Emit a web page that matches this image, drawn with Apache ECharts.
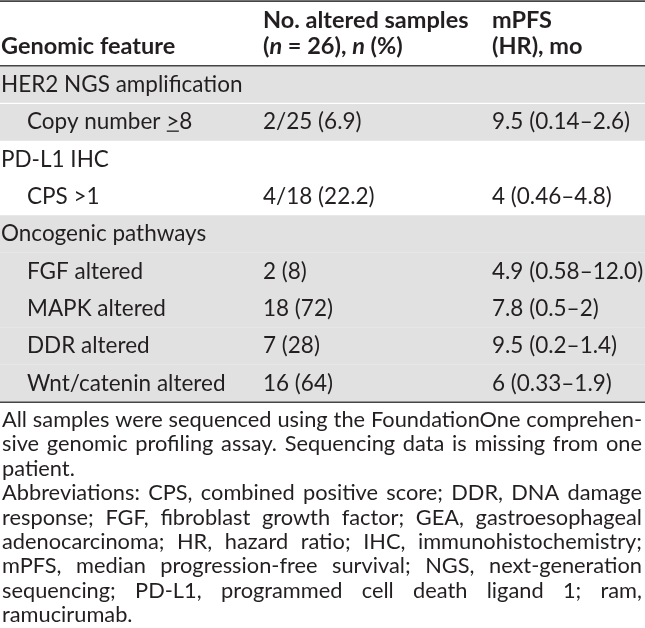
<!DOCTYPE html>
<html><head><meta charset="utf-8">
<script src="https://cdn.jsdelivr.net/npm/echarts@6/dist/echarts.min.js"></script>
<style>html,body{margin:0;padding:0;background:#fff}#c{width:645px;height:628px}</style>
</head><body><div id="c"></div>
<script>
// ---- data ----
const rowLabels = ["HER2 NGS amplification", "Copy number \u22658", "PD-L1 IHC", "CPS >1", "Oncogenic pathways", "FGF altered", "MAPK altered", "DDR altered", "Wnt/catenin altered"];
const rowIsSub = [0, 1, 0, 1, 0, 1, 1, 1, 1];
const alteredSamples = ["", "2/25 (6.9)", "", "4/18 (22.2)", "", "2 (8)", "18 (72)", "7 (28)", "16 (64)"];
const mpfsHR = ["", "9.5 (0.14\u20132.6)", "", "4 (0.46\u20134.8)", "", "4.9 (0.58\u201312.0)", "7.8 (0.5\u20132)", "9.5 (0.2\u20131.4)", "6 (0.33\u20131.9)"];
const rowShaded = [1, 1, 0, 0, 1, 1, 1, 1, 1];
const headerCol1 = "Genomic feature";
const headerCol2 = ["No. altered samples", "({i|n} = 26), {i|n} (%)"];
const headerCol3 = ["mPFS", "(HR), mo"];
const footnoteLines = [
  ["All samples were sequenced using the FoundationOne comprehen-", true],
  ["sive genomic profiling assay. Sequencing data is missing from one", true],
  ["patient.", false],
  ["Abbreviations: CPS, combined positive score; DDR, DNA damage", true],
  ["response; FGF, fibroblast growth factor; GEA, gastroesophageal", true],
  ["adenocarcinoma; HR, hazard ratio; IHC, immunohistochemistry;", true],
  ["mPFS, median progression-free survival; NGS, next-generation", true],
  ["sequencing; PD-L1, programmed cell death ligand 1; ram,", true],
  ["ramucirumab.", false]
];

// ---- layout / style ----
const W = 645;
const FONT = "Lato";
const FS = 22.5;
const FSB = 23.5;
const FSF = 21.8;
const TXT = "#231f20";
const SHADE = "#e1e1e1";
const RULE = "#454545";
const tableTop = 66, tableBottom = 402;
const colX = [1, 263, 492];
const subIndent = 27;
const footTop = 420, footStep = 24.4, footL = 2, footR = 642;

const cv = document.createElement('canvas').getContext('2d');
function tw(s, size) { cv.font = 'normal ' + size + 'px ' + FONT; return cv.measureText(s).width; }

const chart = echarts.init(document.getElementById('c'), null, {renderer: 'canvas'});

function renderRow(params, api) {
  const i = api.value(0);
  const c = api.coord([0, i]);
  const bh = api.size([0, 1])[1];
  const top = c[1] - bh / 2;
  const cy = c[1];
  const children = [];
  if (rowShaded[i]) {
    children.push({type: 'rect', shape: {x: 0, y: top, width: W, height: bh}, style: {fill: SHADE}});
    if (i === 1) {
      children.push({type: 'rect', shape: {x: 0, y: top - 0.5, width: W, height: 1.2}, style: {fill: '#fff'}});
    }
  }
  const x1 = api.coord([rowIsSub[i] ? subIndent : colX[0], i])[0];
  const label = rowLabels[i];
  const ts = {fill: TXT, fontFamily: FONT, fontSize: FS, verticalAlign: 'middle', align: 'left'};
  if (label.indexOf('\u2265') >= 0) {
    const parts = label.split('\u2265');
    const w0 = tw(parts[0], FS);
    const wg = tw('>', FS);
    children.push({type: 'text', style: Object.assign({}, ts, {x: x1, y: cy, text: parts[0] + '>' + parts[1]})});
    children.push({type: 'rect', shape: {x: x1 + w0 + 0.5, y: cy + 8.5, width: wg - 1, height: 1.3}, style: {fill: TXT}});
  } else {
    children.push({type: 'text', style: Object.assign({}, ts, {x: x1, y: cy, text: label})});
  }
  children.push({type: 'text', style: Object.assign({}, ts, {x: api.coord([colX[1], i])[0], y: cy, text: alteredSamples[i]})});
  children.push({type: 'text', style: Object.assign({}, ts, {x: api.coord([colX[2], i])[0], y: cy, text: mpfsHR[i]})});
  return {type: 'group', children: children};
}

const graphics = [];
// rules
graphics.push({type: 'rect', shape: {x: 0, y: 0.3, width: W, height: 1.8}, style: {fill: RULE}});
graphics.push({type: 'rect', shape: {x: 0, y: tableTop - 1, width: W, height: 1.5}, style: {fill: RULE}, z: 10});
graphics.push({type: 'rect', shape: {x: 0, y: tableBottom - 0.5, width: W, height: 1.5}, style: {fill: RULE}, z: 10});
// header
const hs = {fill: TXT, fontFamily: FONT, fontSize: FSB, fontWeight: 'bold', verticalAlign: 'middle', align: 'left'};
const h1 = 20, h2 = 46;
graphics.push({type: 'text', style: Object.assign({}, hs, {x: colX[0], y: h2, text: headerCol1})});
graphics.push({type: 'text', style: Object.assign({}, hs, {x: colX[1], y: h1, text: headerCol2[0]})});
graphics.push({type: 'text', style: Object.assign({}, hs, {x: colX[1], y: h2, text: headerCol2[1], rich: {i: {fontStyle: 'italic', fontWeight: 'bold', fontFamily: FONT, fontSize: FSB, fill: TXT}}})});
graphics.push({type: 'text', style: Object.assign({}, hs, {x: colX[2], y: h1, text: headerCol3[0]})});
graphics.push({type: 'text', style: Object.assign({}, hs, {x: colX[2], y: h2, text: headerCol3[1]})});
// footnotes (justified)
const fs = {fill: TXT, fontFamily: FONT, fontSize: FSF, verticalAlign: 'middle', align: 'left'};
footnoteLines.forEach(function (ln, k) {
  const y = footTop + k * footStep;
  const words = ln[0].split(' ');
  if (!ln[1] || words.length < 2) {
    graphics.push({type: 'text', style: Object.assign({}, fs, {x: footL, y: y, text: ln[0]})});
    return;
  }
  const ws = words.map(function (w) { return tw(w, FSF); });
  const tot = ws.reduce(function (a, b) { return a + b; }, 0);
  const gap = (footR - footL - tot) / (words.length - 1);
  let x = footL;
  words.forEach(function (w, j) {
    graphics.push({type: 'text', style: Object.assign({}, fs, {x: x, y: y, text: w})});
    x += ws[j] + gap;
  });
});

chart.setOption({
  animation: false,
  grid: {left: 0, right: 0, top: tableTop, height: tableBottom - tableTop, containLabel: false},
  xAxis: {type: 'value', min: 0, max: W, show: false},
  yAxis: {type: 'category', data: rowLabels, inverse: true, show: false},
  series: [{type: 'custom', renderItem: renderRow, data: rowLabels.map(function (l, i) { return [i]; }), encode: {y: 0}, clip: false, silent: true}],
  graphic: graphics
});
</script>
</body></html>
